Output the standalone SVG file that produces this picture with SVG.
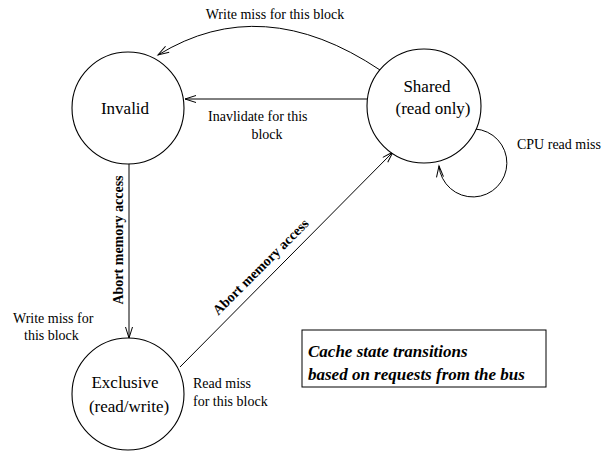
<svg xmlns="http://www.w3.org/2000/svg" width="605" height="452" viewBox="0 0 605 452">
<style>
.node{fill:#fff;stroke:#000;stroke-width:1.1}
.edge{fill:none;stroke:#000;stroke-width:1}
.nl{font-size:17px;text-anchor:middle}
.el{font-size:14px}
.bl{font-size:14px;font-weight:bold;text-anchor:middle}
.box{font-size:17px;font-weight:bold;font-style:italic}
</style>
<defs>
<marker id="arr" markerUnits="userSpaceOnUse" markerWidth="14" markerHeight="10" refX="12" refY="4" orient="auto">
<path d="M1,0.5 L12,4 L1,7.5" fill="none" stroke="#000" stroke-width="1"/>
</marker>
</defs>
<rect width="605" height="452" fill="#fff"/>
<g id="connectors">
<path class="edge" d="M380,70 Q262,-9 158,55" marker-end="url(#arr)"/>
<path class="edge" d="M367,99 L185,99" marker-end="url(#arr)"/>
<path class="edge" d="M129,163 L129,338" marker-end="url(#arr)"/>
<path class="edge" d="M180,367 L393,152" marker-end="url(#arr)"/>
<path class="edge" d="M475,129 A34,34 0 1 1 439,166" marker-end="url(#arr)"/>
</g>
<g font-family="'Liberation Serif', 'Times New Roman', 'DejaVu Serif', serif" fill="#000">
<g id="invalid">
<circle class="node" cx="128" cy="108" r="56"/>
<text class="nl" x="125" y="114">Invalid</text>
</g>
<g id="shared">
<circle class="node" cx="424" cy="106" r="57"/>
<text class="nl" x="427" y="92">Shared</text>
<text class="nl" x="433" y="114">(read only)</text>
</g>
<g id="exclusive">
<circle class="node" cx="128" cy="394" r="56"/>
<text class="nl" x="125" y="388">Exclusive</text>
<text class="nl" x="129" y="412">(read/write)</text>
</g>
<g id="labels">
<text class="el" x="275" y="19" text-anchor="middle">Write miss for this block</text>
<text class="el" x="208" y="121">Inavlidate for this</text>
<text class="el" x="267" y="139" text-anchor="middle">block</text>
<text class="el" x="517" y="149">CPU read miss</text>
<text class="el" x="13" y="323">Write miss for</text>
<text class="el" x="24" y="340">this block</text>
<text class="el" x="193" y="388">Read miss</text>
<text class="el" x="193" y="406">for this block</text>
<text class="bl" transform="translate(123,240) rotate(-90)">Abort memory access</text>
<text class="bl" transform="translate(264,270) rotate(-45)">Abort memory access</text>
</g>
<g id="legend">
<rect x="302" y="330" width="244" height="57" fill="#fff" stroke="#000" stroke-width="1"/>
<text class="box" x="308" y="357">Cache state transitions</text>
<text class="box" x="308" y="380">based on requests from the bus</text>
</g>
</g>
</svg>
